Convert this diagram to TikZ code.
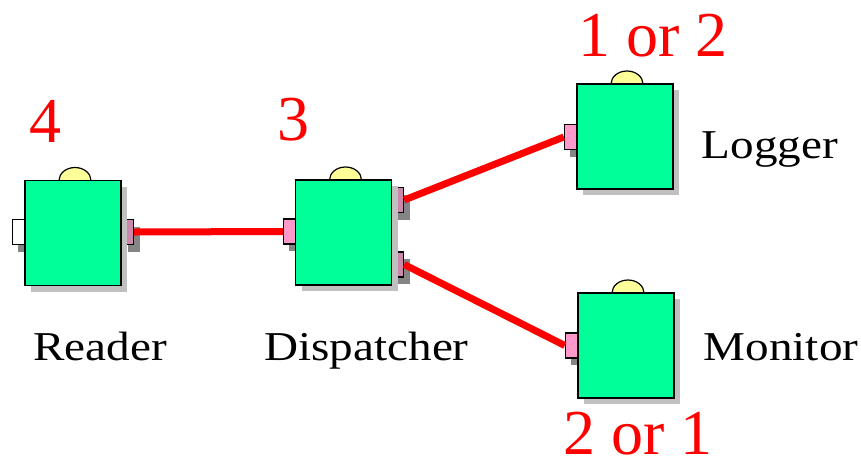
\documentclass[tikz,border=0pt]{standalone}
\usepackage{fontspec}
\setmainfont{Liberation Serif}
\newfontfamily\labelfont[FakeStretch=1.15]{Liberation Serif}
\usetikzlibrary{shapes.geometric,shadows,calc}

\definecolor{boxgreen}{HTML}{00FF99}
\definecolor{knobyellow}{HTML}{FFFF99}
\definecolor{inpink}{HTML}{FF99CC}
\definecolor{outmauve}{HTML}{CC88AA}
\definecolor{boxshade}{HTML}{C0C0C0}
\definecolor{portshade}{HTML}{858585}

\tikzset{
  comp/.style={rectangle, draw=black, line width=1.6pt, fill=boxgreen,
    minimum width=96pt, minimum height=105pt, inner sep=0pt,
    drop shadow={shadow xshift=6pt, shadow yshift=-6pt, fill=boxshade, opacity=1}},
  knob/.style={ellipse, draw=black, line width=1.2pt, fill=knobyellow,
    minimum width=32pt, minimum height=26pt, inner sep=0pt},
  port/.style={rectangle, draw=black, line width=1.2pt,
    minimum width=12pt, minimum height=25pt, inner sep=0pt,
    drop shadow={shadow xshift=6pt, shadow yshift=-7pt, fill=portshade, opacity=1}},
  inport/.style={port, fill=inpink},
  outport/.style={port, fill=outmauve},
  freeport/.style={port, fill=white},
  wire/.style={draw=red, line width=7pt},
  order/.style={text=red, anchor=base, inner sep=0pt,
    font=\fontsize{64}{64}\selectfont},
  caption/.style={text=black, anchor=base, inner sep=0pt,
    font=\labelfont\fontsize{41}{41}\selectfont},
}

\begin{document}
\begin{tikzpicture}[x=1pt, y=-1pt]
  \useasboundingbox (0,0) rectangle (861,459);

  % centres of the component bodies
  \path
    coordinate (c-reader) at (73,233)
    coordinate (c-disp)   at (343.5,232.5)
    coordinate (c-logger) at (625,136.5)
    coordinate (c-mon)    at (626,345.5);

  % knobs on top of each component (lower half hidden by the body)
  \node[knob] (k-reader) at ($(c-reader)+(2,-52.5)$) {};
  \node[knob] (k-disp)   at ($(c-disp)+(2,-52.5)$) {};
  \node[knob] (k-logger) at ($(c-logger)+(2,-52.5)$) {};
  \node[knob] (k-mon)    at ($(c-mon)+(2,-52.5)$) {};

  % ports
  \node[freeport, anchor=east] (reader-in)  at ($(c-reader)+(-48,-1)$) {};
  \node[outport,  anchor=west] (reader-out) at ($(c-reader)+(48,-1)$) {};
  \node[inport,   anchor=east] (disp-in)    at ($(c-disp)+(-47.5,-1)$) {};
  \node[outport,  anchor=west] (disp-out1)  at ($(c-disp)+(47.5,-32.5)$) {};
  \node[outport,  anchor=west] (disp-out2)  at ($(c-disp)+(47.5,32)$) {};
  \node[inport,   anchor=east] (logger-in)  at ($(c-logger)+(-48,0.5)$) {};
  \node[inport,   anchor=east] (mon-in)     at ($(c-mon)+(-48,0)$) {};

  % component bodies
  \node[comp] (reader) at (c-reader) {};
  \node[comp] (disp)   at (c-disp) {};
  \node[comp] (logger) at (c-logger) {};
  \node[comp] (mon)    at (c-mon) {};

  % connections
  \draw[wire] (reader-out.east) -- (disp-in.west);
  \draw[wire] (disp-out1.east) -- (logger-in.west);
  \draw[wire] (disp-out2.east) -- (mon-in.west);

  % start-up order
  \node[order] (o-reader) at (45,142) {4};
  \node[order] (o-disp)   at (293.5,140) {3};
  \node[order] (o-logger) at (653,56) {1 or 2};
  \node[order] (o-mon)    at (638,454) {2 or 1};

  % names
  \node[caption] (n-reader) at (100,360) {Reader};
  \node[caption] (n-disp)   at (366.5,360) {Dispatcher};
  \node[caption] (n-logger) at (770,158) {Logger};
  \node[caption] (n-mon)    at (781,360) {Monitor};
\end{tikzpicture}
\end{document}
